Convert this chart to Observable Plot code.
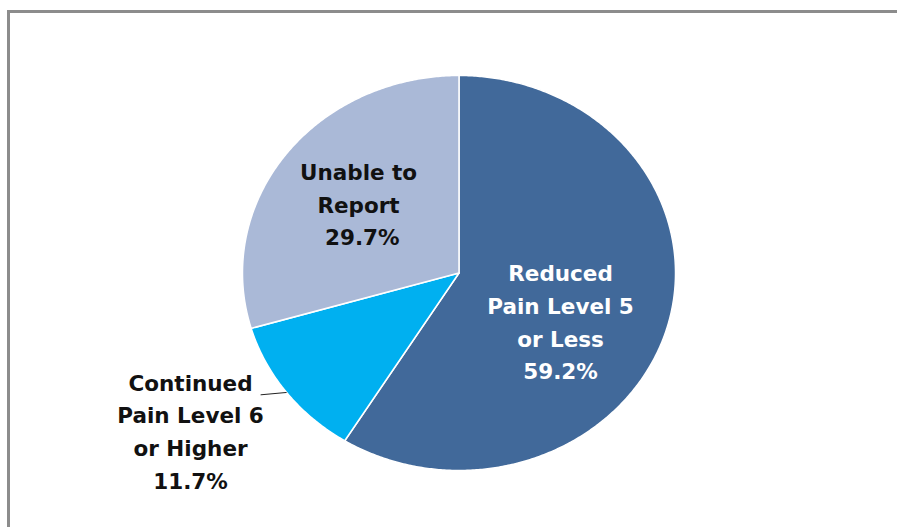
<!DOCTYPE html>
<html><head><meta charset="utf-8">
<script src="https://cdn.jsdelivr.net/npm/d3@7"></script>
<script src="https://cdn.jsdelivr.net/npm/@observablehq/plot@0.6"></script>
<style>
body{margin:0;background:#fff;}
#wrap{position:relative;width:897px;height:527px;overflow:hidden;}
#frame{position:absolute;left:7px;top:10px;width:1000px;height:1000px;border-top:3px solid #8c8c8c;border-left:3px solid #8c8c8c;box-sizing:border-box;pointer-events:none;}
</style></head><body>
<div id="wrap"><div id="frame"></div></div>
<script>
// ---- data ----
const categories = ["Reduced Pain Level 5 or Less", "Continued Pain Level 6 or Higher", "Unable to Report"];
const values = [59.2, 11.7, 29.7];
const labels = ["Reduced\nPain Level 5\nor Less\n59.2%", "Continued\nPain Level 6\nor Higher\n11.7%", "Unable to\nReport\n 29.7%"];
const colors = ["#41699a", "#00b0f0", "#aab9d7"];
const textColors = ["#ffffff", "#111111", "#111111"];

// label placement (in pie units, relative to centre) – layout, not data
const labelPos = [[0.469, -0.253], [-1.240, -0.806], [-0.464, 0.344]];

// ---- geometry from the values ----
const total = d3.sum(values);
const pie = [];
let acc = 0;
categories.forEach((c, i) => {
  const a0 = acc / total * 2 * Math.PI;
  acc += values[i];
  const a1 = acc / total * 2 * Math.PI;
  pie.push({category: c, a0, a1, value: values[i]});
});
const slicePts = [];
for (const s of pie) {
  slicePts.push({category: s.category, x: 0, y: 0});
  const n = Math.max(2, Math.ceil((s.a1 - s.a0) / (Math.PI / 360)));
  for (let k = 0; k <= n; k++) {
    const a = s.a0 + (s.a1 - s.a0) * k / n;
    slicePts.push({category: s.category, x: Math.sin(a), y: Math.cos(a)});
  }
  slicePts.push({category: s.category, x: 0, y: 0});
}
const labelData = categories.map((c, i) => ({category: c, text: labels[i], x: labelPos[i][0], y: labelPos[i][1], color: textColors[i]}));

// leader line for the small slice: from slice edge midpoint to label
const cs = pie[1];
const am = (cs.a0 + cs.a1) / 2;
const edge = {x: Math.sin(am), y: Math.cos(am)};
const leader = [{x1: edge.x - 0.12, y1: edge.y - 0.012, x2: edge.x, y2: edge.y}];

const chart = Plot.plot({
  width: 897,
  height: 527,
  marginLeft: 242,
  marginRight: 222,
  marginTop: 75,
  marginBottom: 57,
  x: {domain: [-1, 1], axis: null},
  y: {domain: [-1, 1], axis: null},
  color: {domain: categories, range: colors},
  style: {background: "transparent"},
  marks: [
    Plot.line(slicePts, {x: "x", y: "y", z: "category", fill: "category", stroke: "#ffffff", strokeWidth: 1.5, strokeLinejoin: "round"}),
    Plot.link(leader, {x1: "x1", y1: "y1", x2: "x2", y2: "y2", stroke: "#222222", strokeWidth: 1}),
    Plot.text(labelData, {x: "x", y: "y", dy: -3, text: "text", fill: "color", fontSize: 21.5, fontWeight: "bold", fontFamily: "DejaVu Sans", lineHeight: 1.52, textAnchor: "middle", lineAnchor: "middle"})
  ]
});
document.getElementById("wrap").insertBefore(chart, document.getElementById("frame"));
</script>
</body></html>
